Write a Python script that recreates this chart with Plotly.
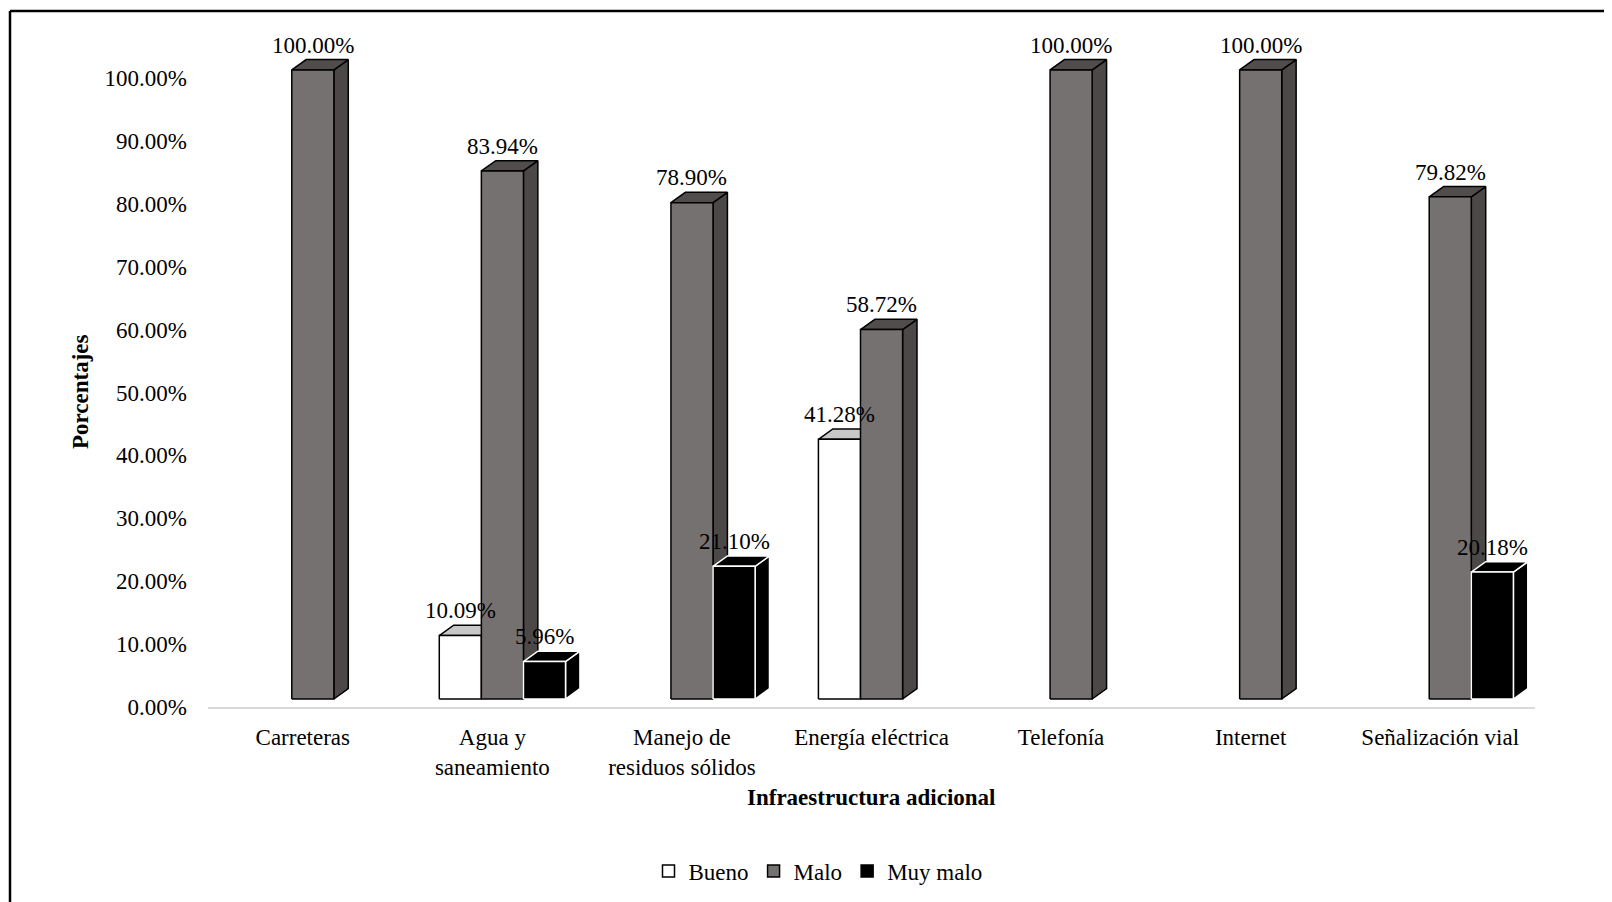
import plotly.graph_objects as go

# data (percent)
categories = ["Carreteras", "Agua y<br>saneamiento", "Manejo de<br>residuos sólidos",
              "Energía eléctrica", "Telefonía", "Internet", "Señalización vial"]
bueno = [0, 10.09, 0, 41.28, 0, 0, 0]
malo = [100.00, 83.94, 78.90, 58.72, 100.00, 100.00, 79.82]
muy_malo = [0, 5.96, 21.10, 0, 0, 0, 20.18]
y_ticks = [0, 10, 20, 30, 40, 50, 60, 70, 80, 90, 100]

FONT = "Liberation Serif, Times New Roman, serif"
OFF = 8                      # page body margin
W_PX, H_PX = 1604, 894
L, R, T, B = 200, 77, 7, 195
Y_MAX = 110

# pseudo-3D geometry (category units / percent units)
BAR_W = 0.222
SHIFT = 0.053
DX = 0.076
DY = 1.64
BASE = 1.27

SERIES = [
    # name, values, front, side, top, edge
    ("Bueno", bueno, "#ffffff", "#c8c8c8", "#c8c8c8", "#000000"),
    ("Malo", malo, "#767171", "#4d4848", "#524d4d", "#000000"),
    ("Muy malo", muy_malo, "#000000", "#000000", "#000000", "#ffffff"),
]


def px_x(px):
    # screen px -> paper x
    return (px - OFF - L) / (W_PX - L - R)


def px_y(py):
    # screen px -> paper y
    return (H_PX - B - (py - OFF)) / (H_PX - T - B)


def faces(vals, j):
    front, side, top = ([], []), ([], []), ([], [])
    for i, v in enumerate(vals):
        if not v:
            continue
        x0 = i + SHIFT + (j - 1) * BAR_W - BAR_W / 2
        x1 = x0 + BAR_W
        y0, y1 = BASE, BASE + v
        front[0].extend([x0, x1, x1, x0, x0, None])
        front[1].extend([y0, y0, y1, y1, y0, None])
        side[0].extend([x1, x1 + DX, x1 + DX, x1, x1, None])
        side[1].extend([y0, y0 + DY, y1 + DY, y1, y0, None])
        top[0].extend([x0, x1, x1 + DX, x0 + DX, x0, None])
        top[1].extend([y1, y1, y1 + DY, y1 + DY, y1, None])
    return front, side, top


fig = go.Figure()
annotations = []
for j, (name, vals, c_front, c_side, c_top, c_edge) in enumerate(SERIES):
    front, side, top = faces(vals, j)
    for (xs, ys), col in ((side, c_side), (top, c_top), (front, c_front)):
        fig.add_trace(go.Scatter(x=xs, y=ys, mode="lines", fill="toself", fillcolor=col,
                                 line=dict(color=c_edge, width=1.5), hoverinfo="skip",
                                 showlegend=False))
    # legend entry only
    fig.add_trace(go.Bar(x=[None], y=[None], name=name, marker_color=c_front,
                         marker_line=dict(color="#000000", width=1.5)))
    for i, v in enumerate(vals):
        if not v:
            continue
        annotations.append(dict(x=i + SHIFT + (j - 1) * BAR_W, y=BASE + v + DY,
                                text=f"{v:.2f}%", showarrow=False, yanchor="bottom",
                                font=dict(family=FONT, size=23, color="#000000")))

annotations.append(dict(xref="paper", yref="paper", x=0.5, y=px_y(797),
                        text="<b>Infraestructura adicional</b>", showarrow=False,
                        yanchor="middle", font=dict(family=FONT, size=23, color="#000000")))
annotations.append(dict(xref="paper", yref="paper", x=px_x(80), y=px_y(392),
                        text="<b>Porcentajes</b>", showarrow=False, textangle=-90,
                        xanchor="center", yanchor="middle",
                        font=dict(family=FONT, size=23, color="#000000")))

frame = [
    dict(type="line", xref="paper", yref="paper", x0=px_x(10), x1=px_x(1700),
         y0=px_y(11), y1=px_y(11), line=dict(color="#000000", width=2.5)),
    dict(type="line", xref="paper", yref="paper", x0=px_x(10), x1=px_x(10),
         y0=px_y(11), y1=px_y(1000), line=dict(color="#000000", width=2.5)),
]

fig.update_layout(
    width=W_PX, height=H_PX,
    margin=dict(l=L, r=R, t=T, b=B),
    paper_bgcolor="#ffffff", plot_bgcolor="#ffffff",
    font=dict(family=FONT, size=23, color="#000000"),
    barmode="overlay",
    annotations=annotations,
    shapes=frame,
    legend=dict(orientation="h", x=px_x(818), y=px_y(871), xanchor="center",
                yanchor="middle", font=dict(family=FONT, size=23, color="#000000"),
                bgcolor="rgba(0,0,0,0)"),
    xaxis=dict(range=[-0.5, 6.5], tickvals=list(range(len(categories))),
               ticktext=categories, showgrid=False, zeroline=False, ticks="",
               showline=True, linecolor="#d9d9d9", linewidth=2, ticklabelstandoff=8,
               fixedrange=True),
    yaxis=dict(range=[0, Y_MAX], tickvals=y_ticks, ticktext=[f"{v:.2f}%" for v in y_ticks],
               showgrid=False, zeroline=False, showline=False, ticks="",
               ticklabelstandoff=20, fixedrange=True),
)

fig.write_html("out.html")
